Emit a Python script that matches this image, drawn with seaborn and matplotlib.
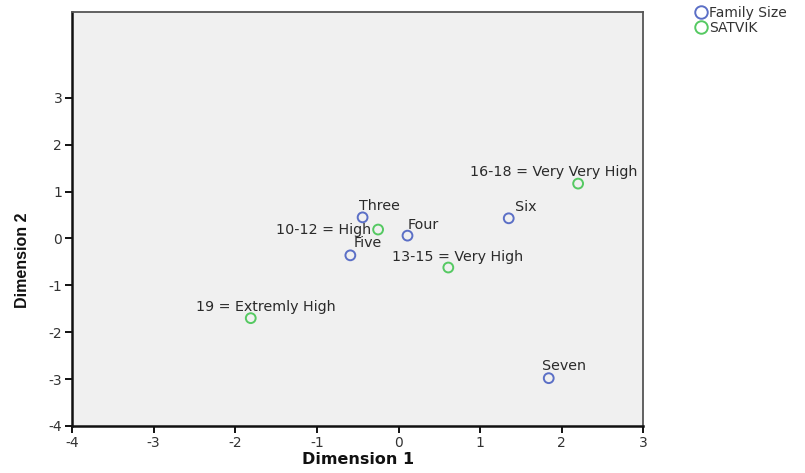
import pandas as pd
import matplotlib.pyplot as plt
import seaborn as sns
from matplotlib.lines import Line2D

# category quantifications (joint plot)
family_labels = ["Three", "Four", "Five", "Six", "Seven"]
family_dim1 = [-0.44, 0.11, -0.59, 1.35, 1.84]
family_dim2 = [0.45, 0.06, -0.36, 0.43, -2.98]

satvik_labels = ["10-12 = High", "13-15 = Very High", "16-18 = Very Very High", "19 = Extremly High"]
satvik_dim1 = [-0.25, 0.61, 2.20, -1.81]
satvik_dim2 = [0.19, -0.62, 1.17, -1.70]

df = pd.concat([
    pd.DataFrame({"dim1": family_dim1, "dim2": family_dim2, "label": family_labels, "var": "Family Size"}),
    pd.DataFrame({"dim1": satvik_dim1, "dim2": satvik_dim2, "label": satvik_labels, "var": "SATVIK"}),
], ignore_index=True)

colors = {"Family Size": "#5b6fc6", "SATVIK": "#55c962"}

sns.set_style("ticks")
plt.rcParams['font.family'] = ['DejaVu Sans']
plt.rcParams['axes.unicode_minus'] = False

fig = plt.figure(figsize=(8.05, 4.73), dpi=100)
ax = fig.add_axes([0.0894, 0.0994, 0.7099, 0.8752])
ax.set_facecolor("#f0f0f0")

sns.scatterplot(data=df, x="dim1", y="dim2", hue="var", palette=colors, s=50,
                marker="o", legend=False, ax=ax, zorder=3)
for coll in ax.collections:
    fc = coll.get_facecolors()
    coll.set_edgecolors(fc)
    coll.set_facecolors("none")
    coll.set_linewidths(1.4)

# label offsets in pixels (dx, dy, ha)
offsets = {
    "Three": (-4, 11, "left"),
    "Four": (0, 11, "left"),
    "Five": (3, 12, "left"),
    "Six": (6, 11, "left"),
    "Seven": (-7, 12, "left"),
    "10-12 = High": (-7, 0, "right"),
    "13-15 = Very High": (-56, 11, "left"),
    "16-18 = Very Very High": (-108, 12, "left"),
    "19 = Extremly High": (-55, 11, "left"),
}
for _, r in df.iterrows():
    dx, dy, ha = offsets[r["label"]]
    t = ax.annotate(r["label"], (r["dim1"], r["dim2"]), xytext=(dx, dy), textcoords="offset pixels",
                    ha=ha, va="center", fontsize=10.3, color="#2a2a2a")
    t.set_clip_path(ax.patch)

ax.set_xlim(-4, 3)
ax.set_ylim(-4, 4.83)
ax.set_xticks(range(-4, 4))
ax.set_yticks(range(-4, 4))
ax.tick_params(labelsize=10, length=5, width=1.4, colors="#111111", labelcolor="#333333",
               direction="out", pad=2)
ax.set_xlabel("Dimension 1", fontsize=11.5, fontweight="bold", labelpad=2, color="#111111")
ax.set_ylabel("Dimension 2", fontsize=11.5, fontweight="bold", color="#111111",
              family=["Liberation Sans Narrow", "Liberation Sans", "DejaVu Sans"])
# SPSS centres the y title on the tick range (-4..3), not on the axis
ax.yaxis.set_label_coords(-0.074, 0.40)

for side in ["left", "bottom"]:
    ax.spines[side].set_linewidth(1.8)
    ax.spines[side].set_color("#111111")
for side in ["top", "right"]:
    ax.spines[side].set_linewidth(1.3)
    ax.spines[side].set_color("#555555")

handles = [Line2D([], [], marker="o", ls="", markerfacecolor="none", markeredgecolor=c,
                  markersize=9, markeredgewidth=1.4) for c in colors.values()]
fig.legend(handles, list(colors.keys()), loc="upper left", bbox_to_anchor=(0.851, 1.008),
           frameon=False, fontsize=10, handletextpad=0.1, labelspacing=0.05,
           borderaxespad=0.3, handlelength=0.9, labelcolor="#333333")

fig.savefig("out.png", dpi=100)
